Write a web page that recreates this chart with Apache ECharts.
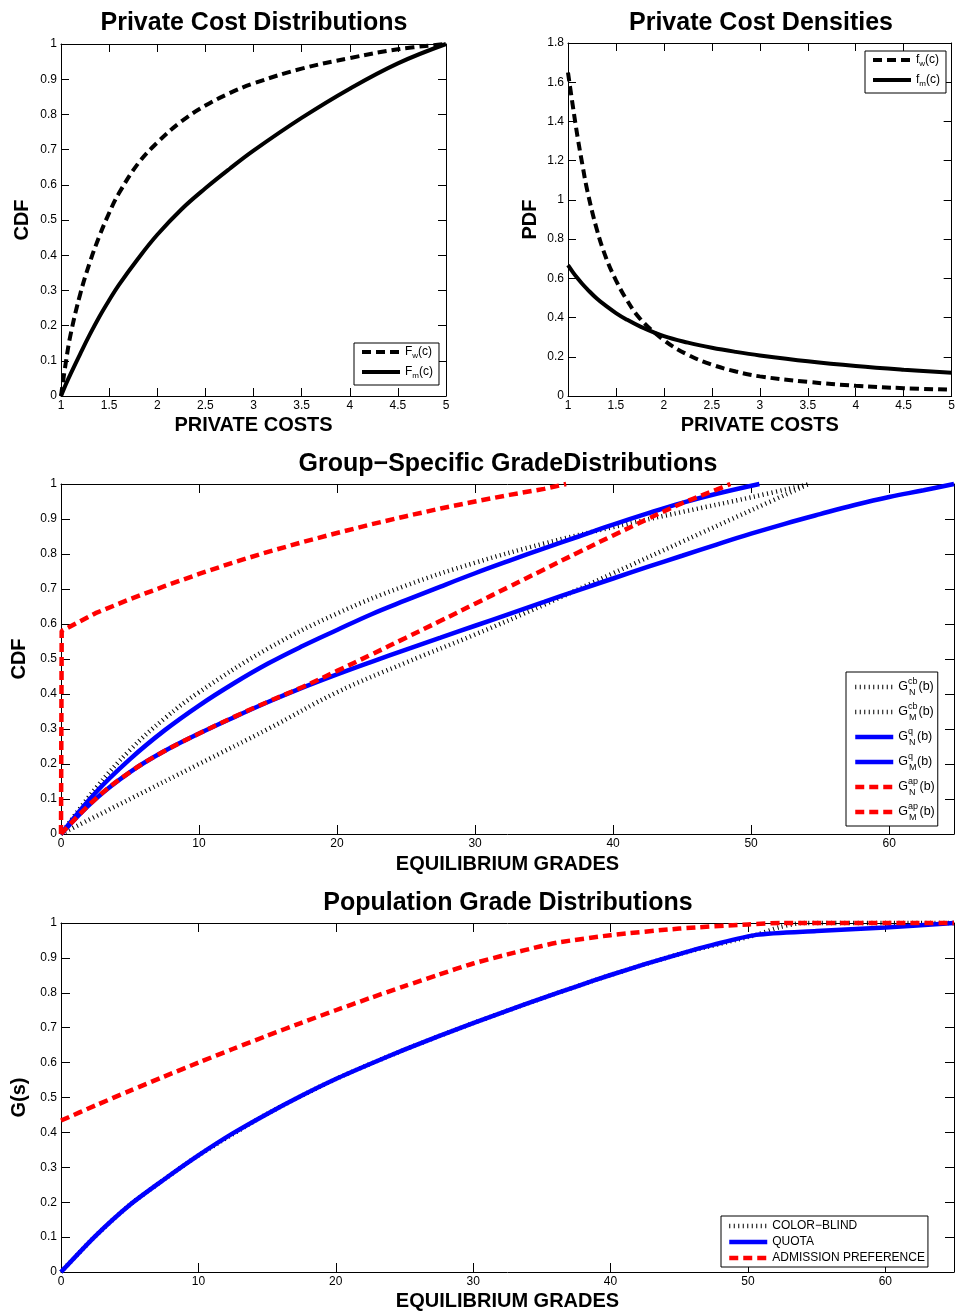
<!DOCTYPE html>
<html>
<head>
<meta charset="utf-8">
<script src="https://cdn.jsdelivr.net/npm/echarts@6/dist/echarts.min.js"></script>
<style>
html, body { margin: 0; padding: 0; background: #fff; }
#chart { width: 958px; height: 1312px; }
</style>
</head>
<body>
<div id="chart"></div>
<script>
var FONT = 'Liberation Sans, Arial, Helvetica, sans-serif';

// private costs: cdf panel
var costX = [1, 1.05, 1.1, 1.2, 1.3, 1.4, 1.5, 1.6, 1.8, 2, 2.25, 2.5, 2.75, 3, 3.5, 4, 4.5, 5];
var cdfW = [0, 0.095, 0.175, 0.29, 0.38, 0.455, 0.52, 0.575, 0.66, 0.72, 0.78, 0.825, 0.86, 0.888, 0.93, 0.96, 0.985, 1];
var cdfM = [0, 0.033, 0.063, 0.12, 0.175, 0.226, 0.272, 0.315, 0.39, 0.458, 0.53, 0.59, 0.645, 0.697, 0.79, 0.873, 0.945, 1];

// private costs: pdf panel
var pdfX = [1, 1.05, 1.1, 1.15, 1.2, 1.3, 1.4, 1.5, 1.6, 1.75, 2, 2.25, 2.5, 2.75, 3, 3.5, 4, 4.5, 5];
var pdfW = [1.65, 1.48, 1.32, 1.18, 1.05, 0.85, 0.70, 0.59, 0.50, 0.395, 0.285, 0.21, 0.16, 0.125, 0.10, 0.072, 0.052, 0.04, 0.032];
var pdfM = [0.667, 0.632, 0.6, 0.571, 0.545, 0.497, 0.458, 0.423, 0.393, 0.355, 0.305, 0.272, 0.246, 0.225, 0.207, 0.177, 0.153, 0.134, 0.118];

// group-specific grade distributions [grade, cdf]
var grpNcb = [[0,0],[2.5,0.13],[5,0.24],[7.5,0.33],[10,0.405],[15,0.53],[20,0.63],[25,0.71],[30,0.775],[35,0.83],[40,0.877],[45,0.92],[50,0.962],[54.2,1]];
var grpMcb = [[0,0],[5,0.1],[10,0.2],[15,0.3],[20,0.405],[25,0.49],[30,0.57],[35,0.655],[40,0.745],[45,0.835],[50,0.925],[54.2,1]];
var grpNq = [[0,0],[2.5,0.118],[5,0.214],[7.5,0.296],[10,0.367],[12.5,0.43],[15,0.487],[17.5,0.537],[20,0.583],[22.5,0.628],[25,0.668],[27.5,0.707],[30,0.745],[32.5,0.781],[35,0.816],[37.5,0.85],[40,0.884],[42.5,0.916],[45,0.946],[47.5,0.972],[50.6,1]];
var grpMq = [[0,0],[2.5,0.1],[5,0.177],[7.5,0.237],[10,0.287],[12.5,0.333],[15,0.377],[17.5,0.418],[20,0.456],[22.5,0.492],[25,0.527],[27.5,0.561],[30,0.595],[32.5,0.629],[35,0.663],[37.5,0.697],[40,0.73],[42.5,0.763],[45,0.795],[47.5,0.827],[50,0.858],[52.5,0.887],[55,0.914],[57.5,0.94],[60,0.963],[62.5,0.982],[64.7,1]];
var grpNap = [[0,0],[0.05,0.58],[2.5,0.631],[5,0.671],[7.5,0.708],[10,0.743],[12.5,0.776],[15,0.806],[17.5,0.834],[20,0.86],[22.5,0.885],[25,0.908],[27.5,0.93],[30,0.95],[32.5,0.969],[35,0.986],[36.6,1]];
var grpMap = [[0,0],[2.5,0.1],[5,0.177],[7.5,0.237],[10,0.287],[12.5,0.334],[15,0.378],[17.5,0.42],[20,0.466],[22.5,0.513],[25,0.561],[27.5,0.609],[30,0.658],[32.5,0.707],[35,0.756],[37.5,0.805],[40,0.853],[42.5,0.9],[45,0.945],[47.5,0.984],[48.5,1]];

// population grade distributions [grade, G(s)]
var popCb = [[0,0],[2.5,0.103],[5,0.192],[7.5,0.265],[10,0.334],[15,0.453],[20,0.553],[25,0.637],[30,0.713],[35,0.784],[40,0.851],[45,0.911],[50.6,0.966],[52.3,0.988],[54,1],[65,1]];
var popQuota = [[0,0],[2.5,0.103],[5,0.192],[7.5,0.265],[10,0.334],[12.5,0.397],[15,0.453],[17.5,0.505],[20,0.553],[22.5,0.596],[25,0.637],[27.5,0.676],[30,0.713],[32.5,0.749],[35,0.784],[37.5,0.818],[40,0.851],[42.5,0.882],[45,0.911],[47.5,0.938],[50.6,0.966],[55,0.977],[60,0.987],[65,1]];
var popAp = [[0,0.434],[2.5,0.477],[5,0.519],[7.5,0.56],[10,0.6],[12.5,0.639],[15,0.677],[17.5,0.714],[20,0.75],[22.5,0.785],[25,0.819],[27.5,0.852],[30,0.884],[32.5,0.91],[35,0.934],[36.3,0.945],[40,0.965],[45,0.984],[50,0.996],[52.5,1],[65,1]];

function pairs(xs, ys) {
    return xs.map(function(x, i) { return [x, ys[i]]; });
}

var grids = [
    {left: 61, top: 44, width: 385, height: 352},
    {left: 568, top: 43, width: 385, height: 353},
    {left: 61, top: 484, width: 893, height: 350},
    {left: 61, top: 923, width: 893, height: 351}
];

var tens = function(v) { return v % 10 === 0 ? v : ''; };
var xSpecs = [
    {min: 1, max: 5, interval: 0.5, name: 'PRIVATE COSTS', gap: 19, tick: 8},
    {min: 1, max: 5, interval: 0.5, name: 'PRIVATE COSTS', gap: 19, tick: 8},
    {min: 0, max: 64.7, interval: 10, name: 'EQUILIBRIUM GRADES', gap: 20, tick: 9, fmt: tens},
    {min: 0, max: 65, interval: 10, name: 'EQUILIBRIUM GRADES', gap: 19, tick: 9, fmt: tens}
];
var ySpecs = [
    {min: 0, max: 1, interval: 0.1, name: 'CDF', gap: 29, tick: 8},
    {min: 0, max: 1.8, interval: 0.2, name: 'PDF', gap: 28, tick: 8},
    {min: 0, max: 1, interval: 0.1, name: 'CDF', gap: 29, tick: 9},
    {min: 0, max: 1, interval: 0.1, name: 'G(s)', gap: 29, tick: 9}
];

function axis(spec, i, pos, main) {
    var a = {
        type: 'value', gridIndex: i, position: pos,
        min: spec.min, max: spec.max, interval: spec.interval,
        name: main ? spec.name : '', nameLocation: 'middle', nameGap: spec.gap,
        nameTextStyle: {fontFamily: FONT, fontSize: 20, fontWeight: 'bold', color: '#000'},
        axisLine: {show: true, onZero: false, lineStyle: {color: '#000', width: 1}},
        axisTick: {show: true, inside: true, length: spec.tick, lineStyle: {color: '#000', width: 1}},
        axisLabel: {show: main, margin: 4, fontFamily: FONT, fontSize: 12, color: '#000'},
        splitLine: {show: false}
    };
    if (spec.fmt) a.axisLabel.formatter = spec.fmt;
    return a;
}

var xAxes = [], yAxes = [];
xSpecs.forEach(function(s, i) { xAxes.push(axis(s, i, 'bottom', true)); });
xSpecs.forEach(function(s, i) { xAxes.push(axis(s, i, 'top', false)); });
ySpecs.forEach(function(s, i) { yAxes.push(axis(s, i, 'left', true)); });
ySpecs.forEach(function(s, i) { yAxes.push(axis(s, i, 'right', false)); });

var DASH = [9, 5], DOTS = [1, 3.5];
function line(name, gi, data, color, width, type, smooth) {
    return {
        type: 'line', name: name, xAxisIndex: gi, yAxisIndex: gi, data: data,
        symbol: 'none', showSymbol: false, smooth: smooth === undefined ? 0.4 : smooth, clip: false,
        lineStyle: {color: color, width: width, type: type, cap: 'butt'},
        itemStyle: {color: color}, silent: true
    };
}

var series = [
    line('Fw', 0, pairs(costX, cdfW), '#000', 4, DASH),
    line('Fm', 0, pairs(costX, cdfM), '#000', 4, 'solid'),
    line('fw', 1, pairs(pdfX, pdfW), '#000', 4, DASH),
    line('fm', 1, pairs(pdfX, pdfM), '#000', 4, 'solid'),
    line('GNcb', 2, grpNcb, '#000', 4.5, DOTS),
    line('GMcb', 2, grpMcb, '#000', 4.5, DOTS),
    line('GNq', 2, grpNq, '#0000ff', 4.5, 'solid'),
    line('GMq', 2, grpMq, '#0000ff', 4.5, 'solid'),
    line('GNap', 2, grpNap, '#ff0000', 4.5, DASH, false),
    line('GMap', 2, grpMap, '#ff0000', 4.5, DASH),
    line('COLOR\u2212BLIND', 3, popCb, '#000', 4.5, DOTS, 0.25),
    line('QUOTA', 3, popQuota, '#0000ff', 4.5, 'solid', 0.25),
    line('ADMISSION PREFERENCE', 3, popAp, '#ff0000', 4.5, DASH, 0.25)
];

var txt = {fontFamily: FONT, color: '#000'};
function st(extra) { return Object.assign({}, txt, extra); }
var richSmall = {
    t: st({fontSize: 12, lineHeight: 16}),
    sb: st({fontSize: 8, lineHeight: 8, verticalAlign: 'bottom'})
};
var richG = {
    g: st({fontSize: 12.5, lineHeight: 20}),
    sp: st({fontSize: 9, lineHeight: 10, verticalAlign: 'top', width: 1}),
    sbcb: st({fontSize: 9, lineHeight: 10, verticalAlign: 'bottom', width: 9.5}),
    sbq: st({fontSize: 9, lineHeight: 10, verticalAlign: 'bottom', width: 8}),
    sbap: st({fontSize: 9, lineHeight: 10, verticalAlign: 'bottom', width: 10.5})
};

function legendBase(left, top, padding, gap, names, rich, fmt) {
    return {
        orient: 'vertical', align: 'left', left: left, top: top, padding: padding,
        itemGap: gap, itemWidth: 38, itemHeight: 12, selectedMode: false,
        borderColor: '#000', borderWidth: 1, borderRadius: 0, backgroundColor: '#fff',
        lineStyle: {width: 'inherit'},
        itemStyle: {opacity: 0, borderWidth: 0},
        textStyle: {fontFamily: FONT, fontSize: 12, color: '#000', rich: rich},
        data: names, formatter: fmt
    };
}

var legends = [
    legendBase(354, 343, [3, 6, 5, 6], 6, ['Fw', 'Fm'], richSmall, function(n) {
        return '{t|F}{sb|' + n.charAt(1) + '}{t|(c)}';
    }),
    legendBase(865, 51, [3, 6, 5, 6], 6, ['fw', 'fm'], richSmall, function(n) {
        return '{t|f}{sb|' + n.charAt(1) + '}{t|(c)}';
    }),
    legendBase(846, 672, [5, 3, 4, 7], 5, ['GNcb', 'GMcb', 'GNq', 'GMq', 'GNap', 'GMap'], richG, function(n) {
        var grp = n.charAt(1), sup = n.slice(2);
        return '{g|G}{sp|' + sup + '}{sb' + sup + '|' + grp + '}{g|(b)}';
    }),
    legendBase(721, 1216, [3, 3, 2, 6], 2, ['COLOR\u2212BLIND', 'QUOTA', 'ADMISSION PREFERENCE'], {}, function(n) {
        return n;
    })
];
legends[3].textStyle.lineHeight = 14;

var titleStyle = {fontFamily: FONT, fontSize: 25, fontWeight: 'bold', color: '#000'};
var titles = [
    {text: 'Private Cost Distributions', left: 254, top: 11, textAlign: 'center', padding: 0, textStyle: titleStyle},
    {text: 'Private Cost Densities', left: 761, top: 11, textAlign: 'center', padding: 0, textStyle: titleStyle},
    {text: 'Group\u2212Specific GradeDistributions', left: 508, top: 452, textAlign: 'center', padding: 0, textStyle: titleStyle},
    {text: 'Population Grade Distributions', left: 508, top: 891, textAlign: 'center', padding: 0, textStyle: titleStyle}
];

var chart = echarts.init(document.getElementById('chart'));
chart.setOption({
    animation: false,
    backgroundColor: '#fff',
    title: titles,
    grid: grids,
    xAxis: xAxes,
    yAxis: yAxes,
    legend: legends,
    series: series
});
</script>
</body>
</html>
